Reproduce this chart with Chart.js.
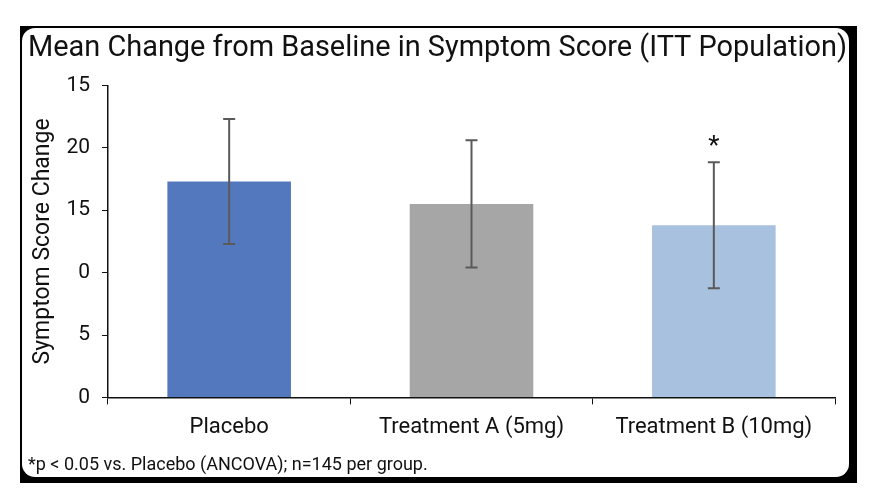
<!DOCTYPE html>
<html>
<head>
<meta charset="utf-8">
<script src="https://cdn.jsdelivr.net/npm/chart.js@4"></script>
<style>
  html, body { margin: 0; padding: 0; background: #ffffff; }
  #wrap { position: relative; width: 876px; height: 497px; overflow: hidden; }
  #frame { position: absolute; left: 20px; top: 26px; width: 837px; height: 457px; background: #000; }
  #panel { position: absolute; left: 2px; top: 2px; width: 827px; height: 449px; background: #fff; border-radius: 13px; }
  #c { position: absolute; left: 0; top: 0; }
</style>
</head>
<body>
<div id="wrap">
  <div id="frame"><div id="panel"></div></div>
  <canvas id="c" width="876" height="497"></canvas>
</div>
<script>
// ---- data ----
const categories = ["Placebo", "Treatment A (5mg)", "Treatment B (10mg)"];
const meanChange = [17.3, 15.5, 13.8];
const errorHalfWidth = [5.0, 5.1, 5.05];
const significanceMarks = ["", "", "*"];
// tick labels exactly as printed on the reference axis, bottom to top
const yTickLabels = ["0", "5", "0", "15", "20", "15"];
const barColors = ["#5478BE", "#A6A6A6", "#A7C1DF"];
const chartTitle = "Mean Change from Baseline in Symptom Score (ITT Population)";
const yAxisTitle = "Symptom Score Change";
const footnote = "*p < 0.05 vs. Placebo (ANCOVA); n=145 per group.";

const FONT = "'Liberation Sans Narrow', 'Arial Narrow', 'Roboto', sans-serif";

const errorBarPlugin = {
  id: 'errorBars',
  afterDatasetsDraw(chart) {
    const ctx = chart.ctx;
    const meta = chart.getDatasetMeta(0);
    const yScale = chart.scales.y;
    ctx.save();
    meta.data.forEach((bar, i) => {
      const x = bar.x;
      const top = yScale.getPixelForValue(meanChange[i] + errorHalfWidth[i]);
      const bot = yScale.getPixelForValue(meanChange[i] - errorHalfWidth[i]);
      ctx.strokeStyle = '#5a5a5a';
      ctx.lineWidth = 2;
      ctx.beginPath();
      ctx.moveTo(x, top); ctx.lineTo(x, bot);
      ctx.moveTo(x - 6, top); ctx.lineTo(x + 6, top);
      ctx.moveTo(x - 6, bot); ctx.lineTo(x + 6, bot);
      ctx.stroke();
      if (significanceMarks[i]) {
        ctx.fillStyle = '#111';
        ctx.font = "26px " + FONT;
        ctx.textAlign = 'center';
        ctx.textBaseline = 'middle';
        ctx.fillText(significanceMarks[i], x, top - 15);
      }
    });
    ctx.restore();
  }
};

new Chart(document.getElementById('c'), {
  type: 'bar',
  data: {
    labels: categories,
    datasets: [{
      data: meanChange,
      backgroundColor: barColors,
      borderWidth: 0,
      categoryPercentage: 1.0,
      barPercentage: 0.51
    }]
  },
  options: {
    responsive: false,
    animation: false,
    layout: { padding: { left: 28, right: 29, top: 0, bottom: 0 } },
    plugins: {
      legend: { display: false },
      tooltip: { enabled: false },
      title: {
        display: true,
        text: chartTitle,
        color: '#111',
        font: { family: FONT, size: 29.5, weight: 'normal' },
        padding: { top: 31, bottom: 19 }
      },
      subtitle: {
        display: true,
        position: 'bottom',
        align: 'start',
        text: footnote,
        color: '#111',
        font: { family: FONT, size: 18, weight: 'normal' },
        padding: { top: 4, bottom: 21 }
      }
    },
    scales: {
      x: {
        grid: { display: true, drawOnChartArea: false, drawTicks: true, tickLength: 7, color: '#111', offset: true },
        border: { display: true, color: '#111', width: 1.5 },
        ticks: { color: '#111', padding: 10, font: { family: FONT, size: 22 } },
        afterFit(scale) { scale.height = 53; }
      },
      y: {
        min: 0, max: 25,
        grid: { display: true, drawOnChartArea: false, drawTicks: true, tickLength: 6, color: '#111' },
        border: { display: true, color: '#111', width: 1.5 },
        ticks: {
          stepSize: 5, color: '#111', padding: 12,
          font: { family: FONT, size: 21 },
          callback: (value, index) => yTickLabels[index]
        },
        title: {
          display: true, text: yAxisTitle, color: '#111',
          font: { family: FONT, size: 23 }, padding: { top: 1, bottom: 2 }
        },
        afterFit(scale) { scale.width = 80; }
      },
      // invisible spacer on the right so the title centres like the reference
      ySpacer: {
        position: 'right',
        display: true,
        grid: { display: false, drawTicks: false },
        border: { display: false },
        ticks: { display: false },
        afterFit(scale) { scale.width = 12; }
      }
    }
  },
  plugins: [errorBarPlugin]
});
</script>
</body>
</html>
